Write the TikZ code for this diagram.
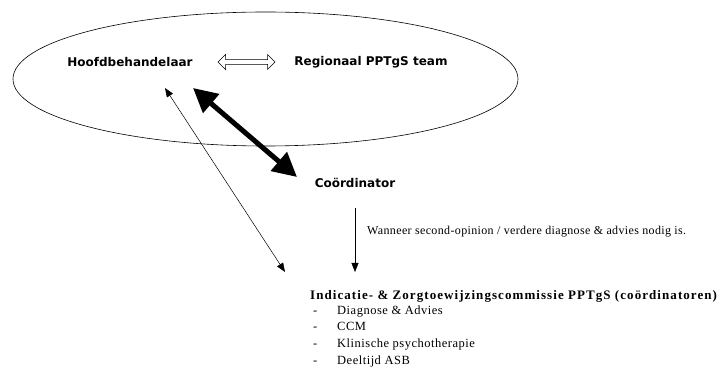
\documentclass[tikz,border=0pt]{standalone}
\usepackage{fontspec}
\setmainfont{Liberation Serif}
\newfontfamily\boxfont{DejaVu Sans}
\usetikzlibrary{arrows.meta,shapes.arrows}

\begin{document}
\begin{tikzpicture}[x=1pt, y=-1pt,
  role/.style={font=\boxfont\bfseries\fontsize{12}{14}\selectfont, inner sep=0pt},
  note/.style={font=\fontsize{12}{14}\selectfont\addfontfeature{LetterSpace=3}, inner sep=0pt, anchor=west},
  item/.style={note, font=\fontsize{12.5}{14}\selectfont\addfontfeature{LetterSpace=4},
    text height=8.5pt, text depth=2.5pt},
  thinarrow/.style={line width=0.5pt, {Triangle[length=9pt,width=7pt]}-{Triangle[length=9pt,width=7pt]}}]
  \useasboundingbox (0,0) rectangle (720,371);

  % Draw region
  \draw[line width=0.6pt] (265.5,79) ellipse [x radius=252.5pt, y radius=67pt];

  % Roles
  \node[role] (hb) at (130,62) {Hoofdbehandelaar};
  \node[role] (team) at (371,62) {Regionaal PPTgS team};
  \node[role] (coord) at (355,183) {Coördinator};

  % Hollow double arrow between roles
  \node[draw, double arrow, minimum width=15pt, minimum height=57pt,
        double arrow head extend=4pt, double arrow head indent=0pt,
        inner sep=1.5pt, line width=0.5pt] (link) at (246.5,62) {};

  % Arrow ends
  \coordinate (hb-a) at (193,88);
  \coordinate (coord-a) at (297,177);
  \coordinate (hb-b) at (165,88);
  \coordinate (ind-b) at (285,272);
  \coordinate (coord-c) at (355,208);
  \coordinate (ind-c) at (355,272);

  % Connect
  \draw[line width=5pt, {Triangle[length=24pt,width=24pt]}-{Triangle[length=24pt,width=24pt]}] (hb-a) -- (coord-a);
  \draw[thinarrow] (hb-b) -- (ind-b);
  \draw[thinarrow, -{Triangle[length=9pt,width=7pt]}] (coord-c) -- (ind-c);

  % Label
  \node[note] (when) at (367,232) {Wanneer second-opinion / verdere diagnose \& advies nodig is.};

  % Commission with list
  \node[item, font=\bfseries\fontsize{13}{15}\selectfont\addfontfeature{LetterSpace=8.2}] (ind) at (310,296)
    {Indicatie- \& Zorgtoewijzingscommissie PPTgS (coördinatoren)};
  \foreach \y/\txt [count=\i] in {311/Diagnose \& Advies, 327.5/CCM,
      344/Klinische psychotherapie, 361/Deeltijd ASB} {
    \node[item] (dash\i) at (313,\y) {-};
    \node[item] (item\i) at (337,\y) {\txt};
  }
\end{tikzpicture}
\end{document}
